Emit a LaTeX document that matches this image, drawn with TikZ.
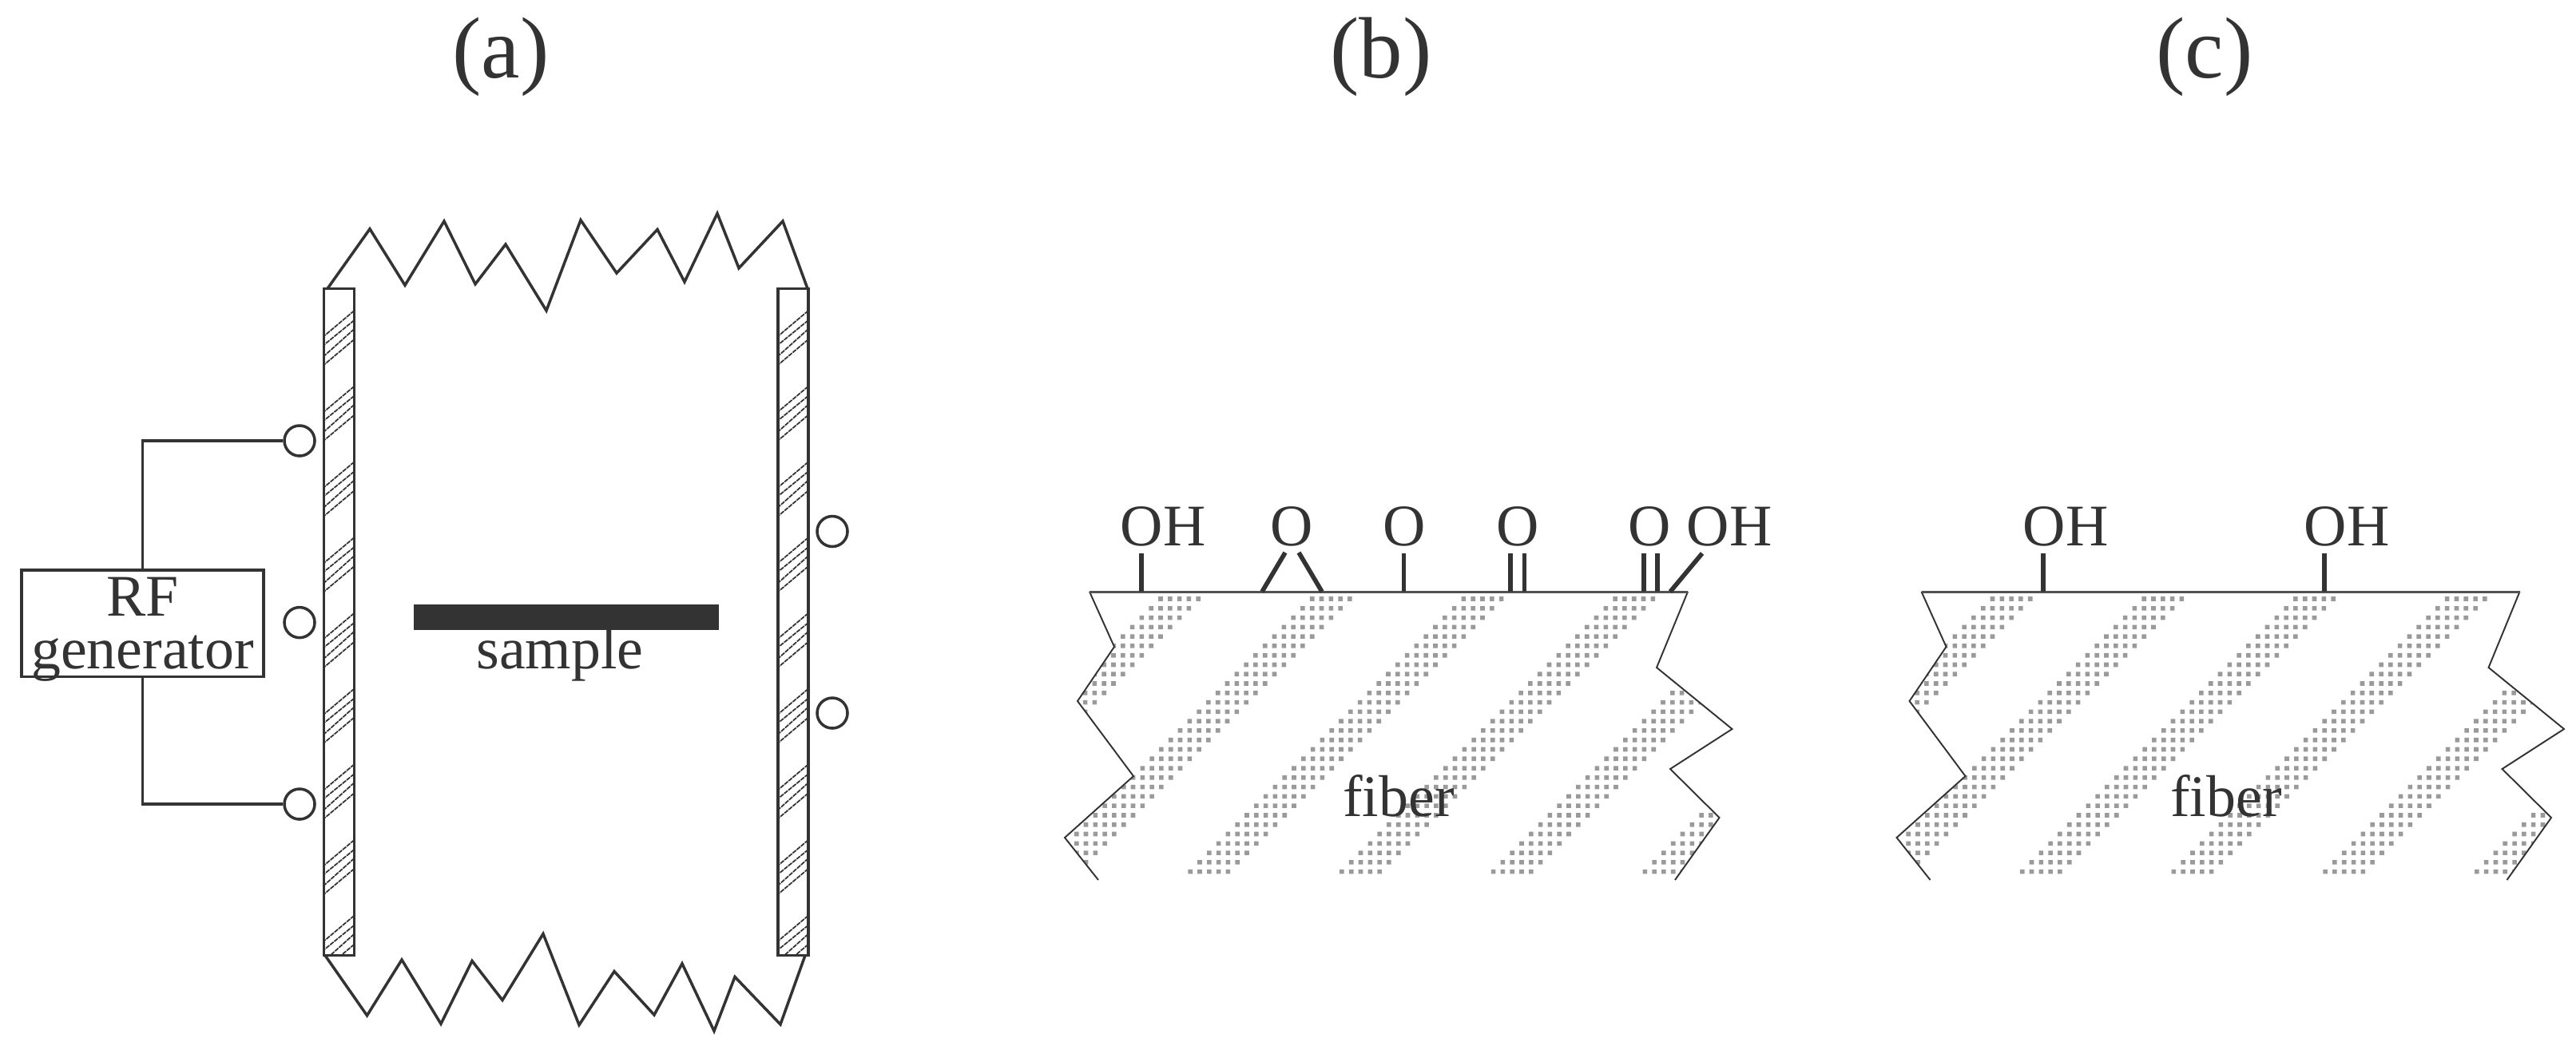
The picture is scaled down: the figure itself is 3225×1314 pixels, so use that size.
\documentclass[tikz,border=0pt]{standalone}
\usepackage{fontspec}
\setmainfont{Liberation Serif}
\definecolor{inkgray}{HTML}{333333}
\definecolor{dotgray}{HTML}{9A9A9A}
\tikzset{
	wire/.style={line width=1pt,color=inkgray},
	edgeline/.style={line width=0.55pt,color=inkgray},
	surface/.style={line width=0.85pt,color=inkgray!85},
	bond/.style={line width=1.6pt,color=inkgray},
	hatchline/.style={line width=0.5pt,color=inkgray,dash pattern=on 1.6pt off 0.3pt},
	port/.style={circle,draw=inkgray,line width=1pt,minimum size=38*0.2845pt,inner sep=0pt},
	chem/.style={anchor=base,inner sep=0pt,color=inkgray,font=\fontsize{21}{21}\selectfont},
	tag/.style={anchor=base,inner sep=0pt,color=inkgray,font=\fontsize{31}{31}\selectfont},
}
\begin{document}
\begin{tikzpicture}[x=0.01cm,y=-0.01cm,line join=miter]
	\useasboundingbox (0,0) rectangle (3225,1314);
	\node[tag] (taga) at (627,97) {(a)};
	\node[tag] (tagb) at (1729,97) {(b)};
	\node[tag] (tagc) at (2760,97) {(c)};
	% electrodes
	\foreach \ex in {405.5,974}{
		\begin{scope}
			\clip (\ex,361.4) rectangle (\ex+38,1196.5);
			\foreach \k in {0,...,8}{
				\foreach \dy/\dz in {0/0,12/11,23/25,36/36}{
					\draw[hatchline] (\ex+38,389+94.7*\k+\dy) -- (\ex,421+94.7*\k+\dz);
				}
			}
		\end{scope}
		\draw[wire] (\ex,361.4) rectangle (\ex+38,1196.5);
	}
	\draw[wire] (410,361.4)--(463,286.7)--(507,357.2)--(556,277)--(595,355.8)--(633,306)--(684,389)--(727,275.6)--(772,342)--(823,287.4)--(857,353)--(898,267.3)--(925,335.8)--(980,277)--(1011,361.4);
	\draw[wire] (407,1196.5)--(459.5,1271.8)--(503,1202)--(552,1282.2)--(591,1203.4)--(629,1252.5)--(680,1169.5)--(725,1283.6)--(769,1216.5)--(819,1271)--(854,1206.8)--(894,1291.2)--(920,1223.4)--(977,1282.9)--(1008,1196.5);
	% ports and generator
	\node[port] (porta) at (375,552) {};
	\node[port] (portb) at (375,779.6) {};
	\node[port] (portc) at (375,1007) {};
	\node[port] (portd) at (1042,665.5) {};
	\node[port] (porte) at (1042,893) {};
	\node[draw=inkgray,line width=1pt,minimum width=303*0.2845pt,minimum height=133.4*0.2845pt,inner sep=0pt] (gen) at (178.5,780.7) {};
	\node[chem] (rftext) at (178.5,771.3) {RF};
	\node[chem] (gentext) at (178.5,837) {generator};
	\draw[wire] (gen.north) |- (porta.west);
	\draw[wire] (gen.south) |- (portc.west);
	% sample
	\fill[inkgray] (518,756.8) rectangle (900,788.6);
	\node[chem] (sample) at (701,837) {sample};
	% fibers
	\foreach \dx in {0,1041.5}{
		\begin{scope}[shift={(\dx,0)}]
			\begin{scope}
				\clip (1364,741)--(1395,810)--(1349,878)--(1419,972)--(1333,1049)--(1375,1102)--(2097,1102)--(2152.5,1024)--(2091,963)--(2168.5,913)--(2074,836)--(2113,741)--cycle;
				\fill[dotgray] foreach \k in {0,...,5}{
					foreach \r in {0,...,29}{
						foreach \c in {0,...,4}{
							({1450.2+189.7*\k+11.8*(\c-\r)},{747.2+11.78*\r}) rectangle ++(5.6,5.6)
						}
					}
				};
			\end{scope}
			\draw[edgeline] (1364,741)--(1395,810)--(1349,878)--(1419,972)--(1333,1049)--(1375,1102);
			\draw[edgeline] (2113,741)--(2074,836)--(2168.5,913)--(2091,963)--(2152.5,1024)--(2097,1102);
		\end{scope}
	}
	\draw[surface] (1364,741)--(2113,741);
	\draw[surface] (2405.5,741)--(3154.5,741);
	\node[chem] (fiberb) at (1751,1022) {fiber};
	\node[chem] (fiberc) at (2787,1022) {fiber};
	% groups of (b)
	\node[chem] (oha) at (1456,683) {OH};
	\node[chem] (oa) at (1617,683) {O};
	\node[chem] (ob) at (1758,683) {O};
	\node[chem] (oc) at (1900,683) {O};
	\node[chem] (od) at (2065,683) {O};
	\node[chem] (ohb) at (2165,683) {OH};
	\draw[bond] (1429,741)--(1429,693);
	\draw[bond] (1580,741)--(1609,692);
	\draw[bond] (1655,741)--(1626,692);
	\draw[bond] (1757.5,741)--(1757.5,693);
	\draw[bond] (1891,741)--(1891,693);
	\draw[bond] (1908.5,741)--(1908.5,693);
	\draw[bond] (2058,741)--(2058,693);
	\draw[bond] (2075,741)--(2075,693);
	\draw[bond] (2091,741)--(2131,693);
	% groups of (c)
	\node[chem] (ohc) at (2586,683) {OH};
	\node[chem] (ohd) at (2938,683) {OH};
	\draw[bond] (2558,741)--(2558,693);
	\draw[bond] (2910,741)--(2910,693);
\end{tikzpicture}
\end{document}
